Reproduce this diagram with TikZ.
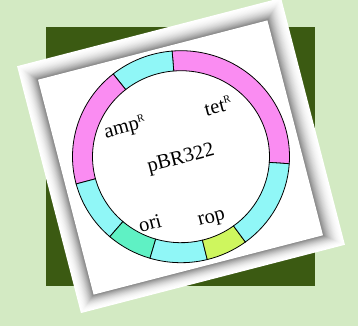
\documentclass[tikz,border=0pt]{standalone}
\usepackage{fontspec}
\setmainfont{Liberation Serif}
\usetikzlibrary{calc}
\definecolor{bg}{HTML}{D3EAC3}
\definecolor{dkgreen}{HTML}{3B5A12}
\definecolor{plmag}{HTML}{FA8CF2}
\definecolor{plcyan}{HTML}{90F7F7}
\definecolor{plori}{HTML}{5FF1C4}
\definecolor{plrop}{HTML}{CEF65E}
\newcommand\supR{\raisebox{0.8ex}{\fontsize{10.5}{10.5}\selectfont R}}
\newcommand\plseg[3]{%
  \filldraw[fill=#3, draw=black, line width=0.8pt]
    ($(C)+(#1:108.5pt and 106pt)$) arc[start angle=#1, end angle=#2, x radius=108.5pt, y radius=106pt]
    -- ($(C)+(#2:88.5pt and 86pt)$) arc[start angle=#2, end angle=#1, x radius=88.5pt, y radius=86pt]
    -- cycle;}
\begin{document}
\begin{tikzpicture}[x=1pt,y=1pt,
  lbl/.style={font=\fontsize{20.5}{20.5}\selectfont, rotate=14.5, inner sep=0pt}]
\useasboundingbox (0,0) rectangle (358,326);
\clip (0,0) rectangle (358,326);
\fill[bg] (0,0) rectangle (358,326);
\fill[dkgreen] (45.7,40) rectangle (315,299.3);
% frame with inner shading
\foreach \i in {0,...,24}{
  \pgfmathsetmacro\t{\i/24}
  \pgfmathsetmacro\w{272.7-\t*35.7}
  \pgfmathsetmacro\h{255-\t*33}
  \pgfmathsetmacro\cy{170.5-\t*2}
  \pgfmathsetmacro\cx{181-\t*0.5}
  \pgfmathsetmacro\c{50*\t*\t}
  \fill[black!\c!white, shift={(\cx,\cy)}, rotate=14.5] (-\w/2,-\h/2) rectangle (\w/2,\h/2);
}
\fill[white, shift={(180.5,168.5)}, rotate=14.5] (-118.5,-111) rectangle (118.5,111);
% ring
\coordinate (C) at (181,169.3);
\plseg{-3.8}{94.7}{plmag}
\plseg{94.7}{128.7}{plcyan}
\plseg{128.7}{194.9}{plmag}
\plseg{194.9}{229}{plcyan}
\plseg{229}{253.4}{plori}
\plseg{253.4}{284}{plcyan}
\plseg{284}{306.4}{plrop}
\plseg{306.4}{356.2}{plcyan}
% labels
\node[lbl] (amp) at (125,198) {amp\supR};
\node[lbl] (tet) at (218,220) {tet\supR};
\node[lbl] (pbr) at (181,167) {pBR322};
\node[lbl] (ori) at (150,103) {ori};
\node[lbl] (rop) at (212,106) {rop};
\end{tikzpicture}
\end{document}
